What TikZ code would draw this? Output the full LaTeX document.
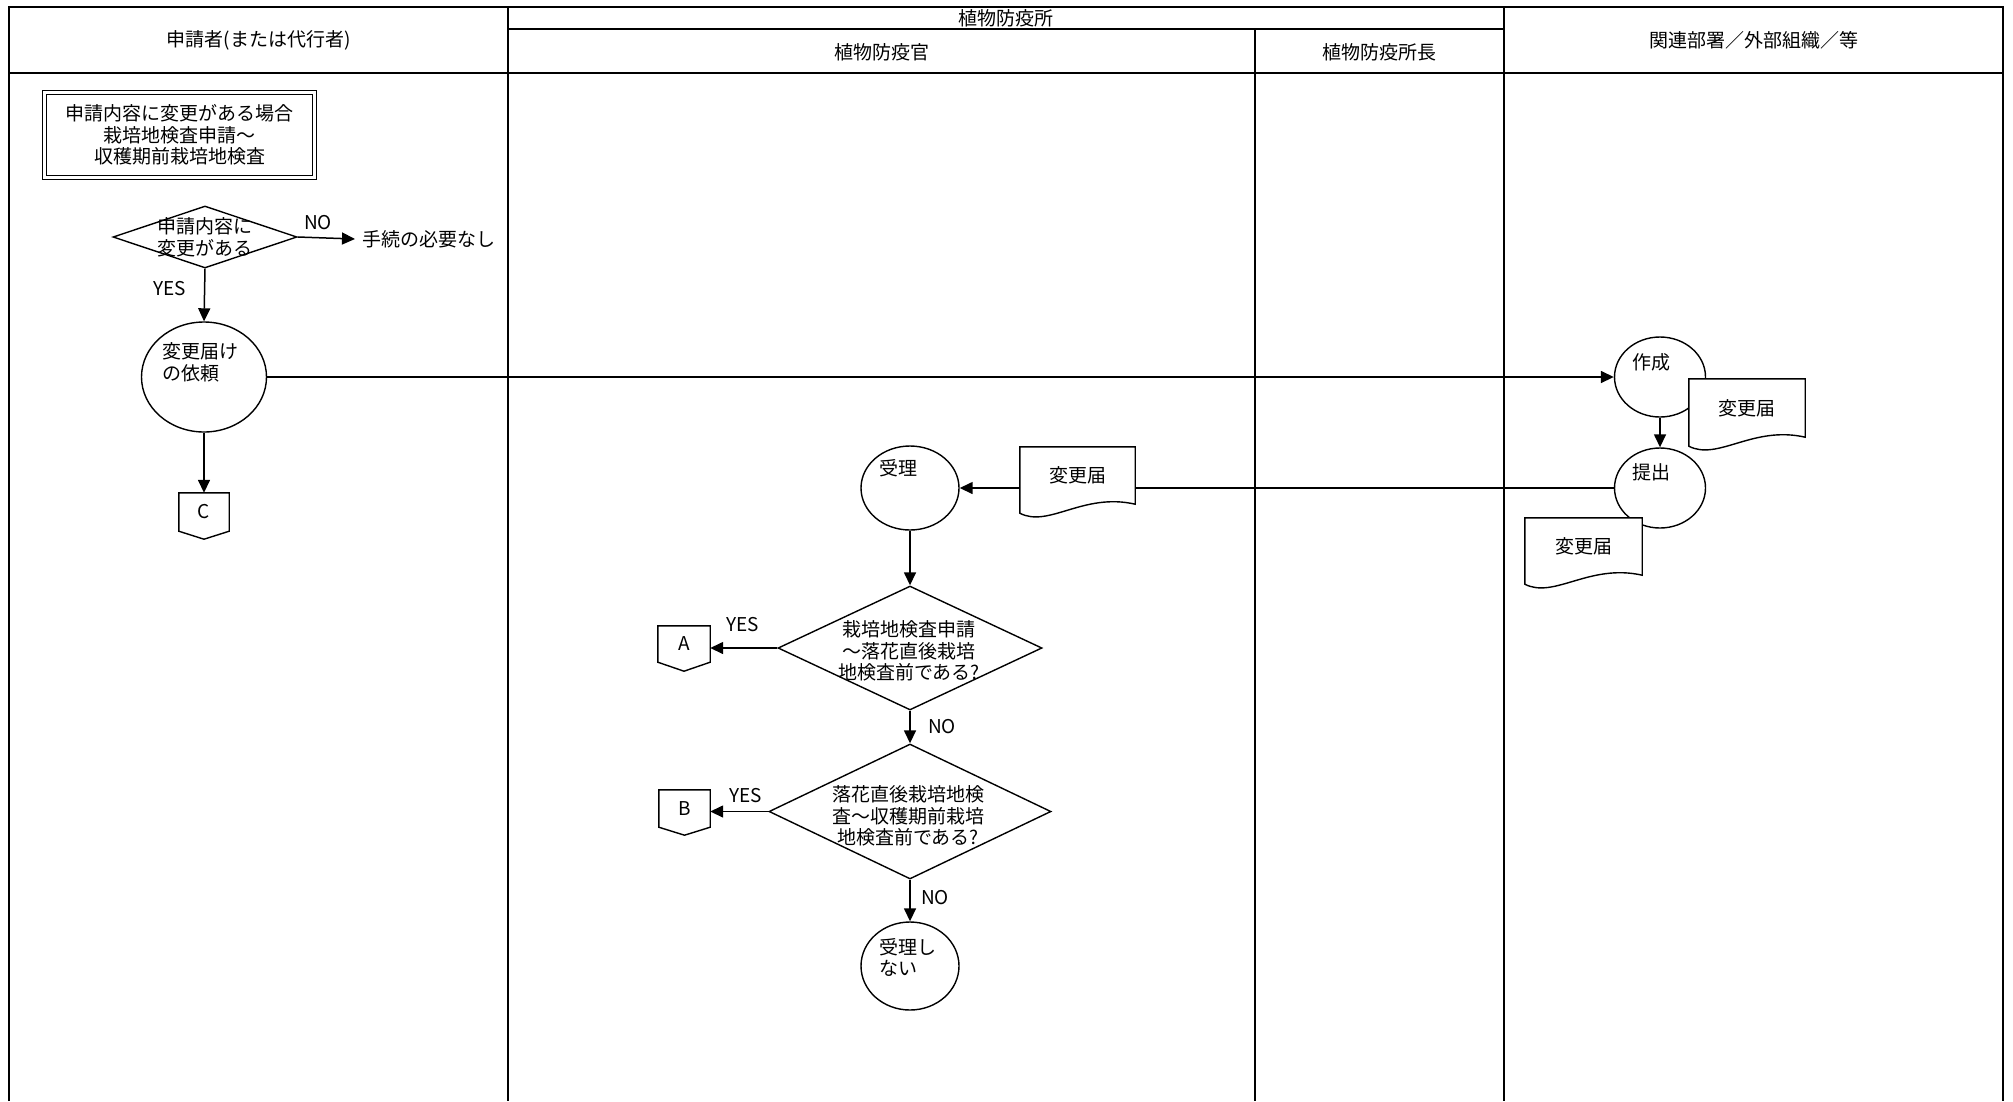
\documentclass[tikz,border=0pt]{standalone}
\usepackage{fontspec}
\setmainfont{Noto Sans CJK JP}
\usetikzlibrary{arrows.meta,shapes.geometric,calc}
\newcommand\jpf{\fontsize{19}{21.7}\selectfont}
\newcommand\lblf{\fontsize{19}{21}\selectfont}
\tikzset{
  lane/.style={line width=1.5pt},
  border/.style={line width=2pt},
  shp/.style={draw, line width=1.4pt},
  conn/.style={line width=1.5pt},
  arr/.style={conn, -{Triangle[length=13pt,width=12pt]}},
  txt/.style={inner sep=0pt, font=\jpf},
  lbl/.style={inner sep=0pt, font=\lblf},
  proc/.style={shp, ellipse, inner sep=0pt},
  dec/.style={shp, diamond, inner sep=0pt},
  holder/.style={inner sep=0pt},
  offp/.style={inner sep=0pt, font=\lblf},
}
\newcommand\drawdoc[1]{%
  \filldraw[shp, fill=white] (#1.south east) -- (#1.north east) -- (#1.north west) -- ($(#1.south west)+(0,9)$)
   .. controls ($(#1.south west)!0.25!(#1.south east)+(0,24)$) and ($(#1.south west)!0.55!(#1.south east)+(0,-12)$) .. (#1.south east) -- cycle;}
\newcommand\offpg[2]{%
  \draw[shp] (#1.north west) -- (#1.north east) -- (#1.south east) -- ($(#1.south)+(0,#2)$) -- (#1.south west) -- cycle;}
\begin{document}
\begin{tikzpicture}[x=1pt,y=-1pt]
\useasboundingbox (0,0) rectangle (2013,1101);
% swimlanes
\draw[border] (9,1101) -- (9,6.5) -- (2003,6.5) -- (2003,1101);
\draw[border] (9,73) -- (2003,73);
\draw[border] (508,6.5) -- (508,1101);
\draw[lane] (508,29) -- (1504,29);
\draw[lane] (1255,29) -- (1255,1101);
\draw[border] (1504,6.5) -- (1504,1101);
\node[txt] (h1) at (258.5,40) {申請者(または代行者)};
\node[txt] (h2) at (1006,18) {植物防疫所};
\node[txt] (h3) at (881.5,52) {植物防疫官};
\node[txt] (h4) at (1379.5,52) {植物防疫所長};
\node[txt] (h5) at (1753.5,40) {関連部署／外部組織／等};
% title
\node[draw, double, double distance=2.5pt, line width=1.2pt, minimum width=270pt, minimum height=85pt,
      align=center, font=\jpf, inner sep=0pt] (title) at (179.5,135)
      {申請内容に変更がある場合\\栽培地検査申請～\\収穫期前栽培地検査};
% applicant lane
\node[dec, minimum width=184pt, minimum height=62pt] (q1) at (205,237) {};
\node[txt, align=center] (q1t) at (205,237.5) {申請内容に\\変更がある};
\node[txt, anchor=west] (nop) at (362,239) {手続の必要なし};
\draw[arr] (q1.east) -- ([xshift=-7pt]nop.west);
\node[lbl] (no1) at (318,223) {NO};
\node[lbl] (yes1) at (170,289) {YES};
\node[proc, minimum width=125pt, minimum height=110pt] (req) at (204,377) {};
\node[txt, align=left, anchor=west] (reqt) at (162,362) {変更届け\\の依頼};
\draw[arr] (q1.south) -- (req.north);
\node[offp, minimum width=50pt, minimum height=38pt] (C) at (204,512) {C};
\offpg{C}{8}
\draw[arr] (req.south) -- (C.north);
% related departments lane
\node[proc, minimum width=91pt, minimum height=80pt] (mk) at (1660,377) {};
\node[txt, anchor=west] (mkt) at (1632,362) {作成};
\node[proc, minimum width=91pt, minimum height=80pt] (sub) at (1660,488) {};
\node[txt, anchor=west] (subt) at (1632,472) {提出};
\draw[arr] (req.east) -- (mk.west);
\draw[arr] (mk.south) -- (sub.north);
\node[holder, minimum width=116pt, minimum height=58pt] (docR) at (1747,408) {};
\drawdoc{docR}
\node[txt] (docRt) at (docR) {変更届};
\node[holder, minimum width=117pt, minimum height=57pt] (docS) at (1583.5,546.5) {};
\drawdoc{docS}
\node[txt] (docSt) at (docS) {変更届};
% officer lane
\node[proc, minimum width=98pt, minimum height=84pt] (rcv) at (910,488) {};
\node[txt, anchor=west] (rcvt) at (879,468) {受理};
\node[holder, minimum width=115pt, minimum height=57pt] (docK) at (1077.5,475.5) {};
\drawdoc{docK}
\node[txt] (docKt) at (docK) {変更届};
\draw[conn] (sub.west) -- (sub.west -| docK.east);
\draw[arr] (rcv.east -| docK.west) -- (rcv.east);
\node[dec, minimum width=264pt, minimum height=124pt] (q2) at (910,648) {};
\node[txt, align=center] (q2t) at (909,651) {栽培地検査申請\\～落花直後栽培\\地検査前である?};
\draw[arr] (rcv.south) -- (q2.north);
\node[offp, minimum width=52pt, minimum height=36pt] (A) at (684,644) {A};
\offpg{A}{9}
\draw[arr] (q2.west) -- (q2.west -| A.east);
\node[lbl] (yes2) at (743,625) {YES};
\node[dec, minimum width=282pt, minimum height=135pt] (q3) at (910,811.5) {};
\node[txt, align=center] (q3t) at (908,816) {落花直後栽培地検\\査～収穫期前栽培\\地検査前である?};
\draw[arr] (q2.south) -- (q3.north);
\node[lbl] (no2) at (942,727) {NO};
\node[offp, minimum width=51pt, minimum height=37pt] (B) at (684.5,808.5) {B};
\offpg{B}{8}
\draw[arr] (q3.west) -- (q3.west -| B.east);
\node[lbl] (yes3) at (746,796) {YES};
\node[proc, minimum width=98pt, minimum height=88pt] (rej) at (910,966) {};
\node[txt, align=left, anchor=west] (rejt) at (879,957.5) {受理し\\ない};
\draw[arr] (q3.south) -- (rej.north);
\node[lbl] (no3) at (935,898) {NO};
\end{tikzpicture}
\end{document}
